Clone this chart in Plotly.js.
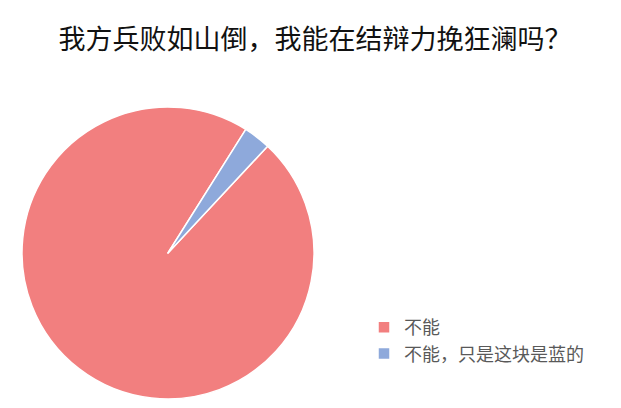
<!DOCTYPE html>
<html>
<head>
<meta charset="utf-8">
<script src="https://cdn.plot.ly/plotly-3.0.1.min.js"></script>
<style>
  html, body { margin: 0; padding: 0; background: #fff; }
  #main { width: 621px; height: 408px; }
</style>
</head>
<body>
<div id="main"></div>
<script>
const labels = ['不能', '不能，只是这块是蓝的']
const values = [97, 3]
const colors = ['#f27f7f', '#8ea9db']

const data = [{
  type: 'pie',
  labels: labels,
  values: values,
  sort: false,
  direction: 'clockwise',
  rotation: 43,
  textinfo: 'none',
  hoverinfo: 'label+percent',
  marker: { colors: colors, line: { color: '#ffffff', width: 1.5 } },
  domain: { x: [22 / 621, 314 / 621], y: [9 / 408, 301 / 408] },
}]

const layout = {
  width: 621,
  height: 408,
  margin: { l: 0, r: 0, t: 0, b: 0 },
  paper_bgcolor: '#ffffff',
  font: { family: '"Noto Sans CJK SC", "Noto Sans", sans-serif', color: '#595959' },
  title: {
    text: '我方兵败如山倒，我能在结辩力挽狂澜吗？',
    font: { size: 27, color: '#111111' },
    x: 315 / 621,
    xanchor: 'center',
    y: 1 - 40 / 408,
    yanchor: 'middle',
    yref: 'container',
  },
  showlegend: true,
  legend: {
    x: 364 / 621,
    y: 1 - 309 / 408,
    xanchor: 'left',
    yanchor: 'top',
    font: { size: 18, color: '#595959' },
    itemwidth: 30,
    tracegroupgap: 0,
  },
}

Plotly.newPlot('main', data, layout, { displayModeBar: false, staticPlot: true })
</script>
</body>
</html>
